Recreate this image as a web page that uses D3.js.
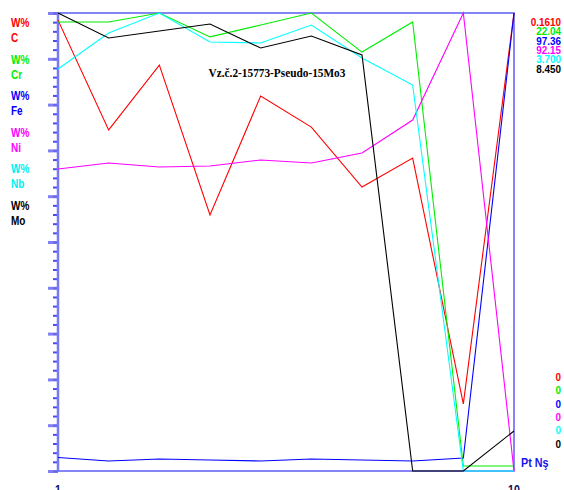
<!DOCTYPE html>
<html>
<head>
<meta charset="utf-8">
<script src="https://cdn.jsdelivr.net/npm/d3@7/dist/d3.min.js"></script>
<style>
body { margin: 0; background: #fff; }
svg { display: block; }
.lab { font-family: "Liberation Sans", Arial, sans-serif; font-weight: bold; }
</style>
</head>
<body>
<svg id="chart" width="564" height="490"></svg>
<script>
// elements measured
var elements = ["C", "Cr", "Fe", "Ni", "Nb", "Mo"];
var colors = ["#ff0000", "#00ee00", "#0000ff", "#ff00ff", "#00ffff", "#000000"];
var maxLabels = ["0.1610", "22.04", "97.36", "92.15", "3.700", "8.450"];
var maxValues = [0.1610, 22.04, 97.36, 92.15, 3.700, 8.450];
var points = [1, 2, 3, 4, 5, 6, 7, 8, 9, 10];

// W% per point
var valC  = [0.1585, 0.1199, 0.1427, 0.0900, 0.1318, 0.1209, 0.0998, 0.1100, 0.0236, 0.1610];
var valCr = [21.61, 21.61, 22.04, 20.89, 21.46, 22.04, 20.16, 21.61, 0.24, 0.24];
var valFe = [2.87, 2.13, 2.55, 2.34, 2.13, 2.55, 2.34, 2.13, 2.76, 97.36];
var valNi = [60.76, 61.97, 61.16, 61.37, 62.57, 61.97, 63.98, 70.62, 92.15, 0];
var valNb = [3.248, 3.538, 3.700, 3.466, 3.458, 3.603, 3.336, 3.118, 0, 0];
var valMo = [8.450, 7.989, 8.118, 8.247, 7.804, 8.026, 7.675, 0, 0, 0.738];

var series = [valC, valCr, valFe, valNi, valNb, valMo];

var title = "Vz.č.2-15773-Pseudo-15Mo3";

var plotLeft = 58, plotRight = 514, plotTop = 13, plotBottom = 471;

var svg = d3.select('#chart');

var x = d3.scaleLinear().domain([1, 10]).range([plotLeft, plotRight]);

// left ruler, 10 major and 5 minor steps each
var ruler = d3.scaleLinear().domain([0, 50]).range([plotBottom, plotTop]);

svg.append('g')
    .attr('transform', 'translate(' + plotLeft + ',0)')
    .call(d3.axisLeft(ruler).tickValues(d3.range(0, 51)).tickSize(5).tickFormat(''))
    .call(g => g.select('.domain').remove())
    .selectAll('line').attr('stroke', '#2a2aee').attr('stroke-width', 2).attr('stroke-opacity', 0.85);

svg.append('g')
    .attr('transform', 'translate(' + plotLeft + ',0)')
    .call(d3.axisLeft(ruler).tickValues(d3.range(0, 51, 5)).tickSize(10).tickFormat(''))
    .call(g => g.select('.domain').remove())
    .selectAll('line').attr('stroke', '#6a6af0').attr('stroke-width', 3).attr('stroke-opacity', 0.85);

// frame
svg.append('rect')
    .attr('x', plotLeft).attr('y', plotTop)
    .attr('width', plotRight - plotLeft).attr('height', plotBottom - plotTop)
    .attr('fill', 'none')
    .attr('stroke', '#5c5cf2')
    .attr('stroke-width', 1.5);

svg.append('line')
    .attr('x1', plotLeft).attr('x2', plotLeft).attr('y1', plotTop).attr('y2', plotBottom)
    .attr('stroke', '#7a7af0').attr('stroke-width', 2.5);

// data lines
series.forEach(function(vals, i){

    let y = d3.scaleLinear().domain([0, maxValues[i]]).range([plotBottom, plotTop]);

    let line = d3.line()
        .x((d, j) => x(points[j]))
        .y(d => y(d));

    svg.append('path')
        .datum(vals)
        .attr('d', line)
        .attr('fill', 'none')
        .attr('stroke', colors[i])
        .attr('stroke-width', 1.1);
});

// narrow text helper
function label(px, py, sx, t){
    return svg.append('text')
        .attr('class', 'lab')
        .attr('transform', 'translate(' + px + ',' + py + ') scale(' + sx + ',1)')
        .text(t);
}

// left labels
elements.forEach(function(el, i){
    let c = colors[i] == '#00ffff' ? '#00f0f0' : colors[i];
    label(11, 27 + i * 36.6, 0.74, 'W%').attr('font-size', 13.5).attr('fill', c);
    label(11, 42 + i * 36.6, 0.74, el).attr('font-size', 13.5).attr('fill', c);
});

// right max labels
maxLabels.forEach(function(t, i){
    label(561, 26 + i * 9.3, 0.9, t)
        .attr('text-anchor', 'end')
        .attr('font-size', 11)
        .attr('fill', colors[i]);
});

// right min labels
elements.forEach(function(el, i){
    label(561, 381 + i * 13.3, 0.86, '0')
        .attr('text-anchor', 'end')
        .attr('font-size', 11.5)
        .attr('fill', colors[i]);
});

label(521, 467, 0.8, 'Pt Nş')
    .attr('font-size', 13.5)
    .attr('fill', '#1515ee');

// x labels
[1, 10].forEach(function(p){
    label(x(p), 494, 0.85, p)
        .attr('text-anchor', 'middle')
        .attr('font-size', 12.5)
        .attr('fill', '#101060');
});

svg.append('text')
    .attr('transform', 'translate(277,77) scale(0.87,1)')
    .attr('text-anchor', 'middle')
    .attr('font-family', '"Liberation Serif", "Times New Roman", serif')
    .attr('font-weight', 'bold')
    .attr('font-size', 13)
    .attr('fill', '#000')
    .text(title);
</script>
</body>
</html>
